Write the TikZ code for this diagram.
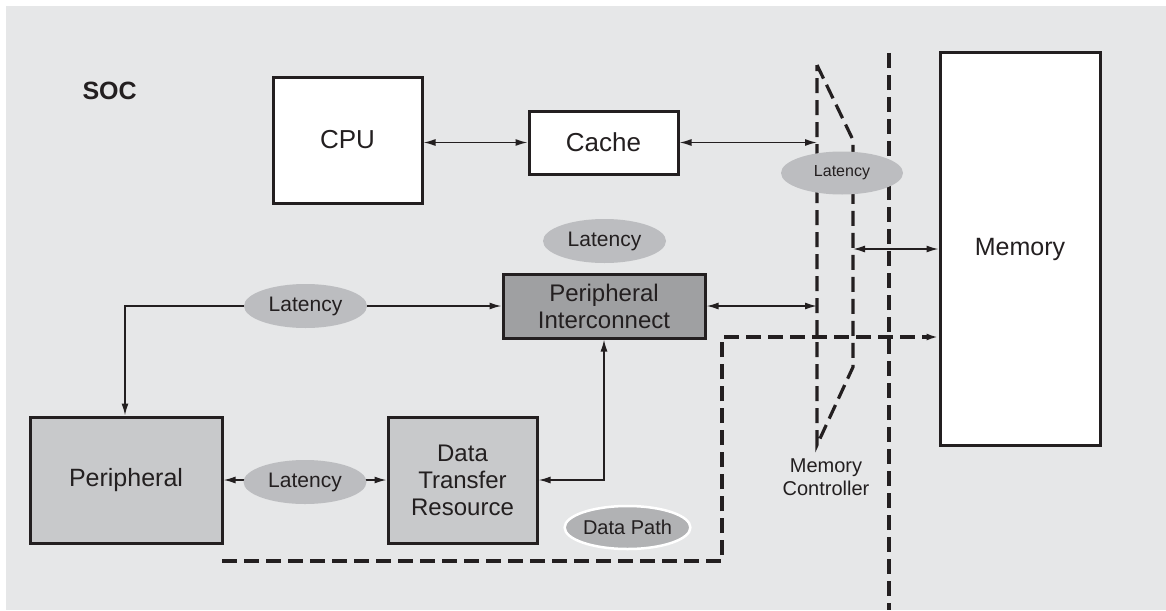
\documentclass[tikz,border=0pt]{standalone}
\usepackage{fontspec}
\setmainfont{Liberation Sans}
\usetikzlibrary{arrows.meta,shapes.geometric}
\definecolor{bg}{HTML}{E6E7E8}
\definecolor{ink}{HTML}{231F20}
\definecolor{boxgray}{HTML}{C8C9CB}
\definecolor{pigray}{HTML}{9FA0A2}
\definecolor{ellgray}{HTML}{BCBDC0}
\definecolor{dpgray}{HTML}{B1B2B4}
\tikzset{
  blk/.style={draw=ink, line width=3pt, rectangle, inner sep=0pt, text=ink, align=center},
  lat/.style={ellipse, fill=ellgray, inner sep=0pt, text=ink, minimum width=123pt, minimum height=44pt, font=\fontsize{21}{24}\selectfont},
  conn/.style={draw=ink, line width=1.5pt, {Latex[length=12pt,width=7pt]}-{Latex[length=12pt,width=7pt]}},
  dsh/.style={draw=ink, line width=3.2pt, dash pattern=on 15pt off 7pt},
}
\begin{document}
\begin{tikzpicture}[x=1pt,y=-1pt]
\useasboundingbox (0,0) rectangle (1166,610);
\fill[bg] (6,6) rectangle (1166,610);

% text label
\node[anchor=west, text=ink, font=\bfseries\fontsize{25}{28}\selectfont] (soc) at (79,91) {SOC};

% boxes
\node[blk, fill=white, minimum width=149pt, minimum height=126pt, font=\fontsize{26}{30}\selectfont] (cpu) at (347.5,140) {CPU};
\node[blk, fill=white, minimum width=149pt, minimum height=63pt, font=\fontsize{26}{30}\selectfont] (cache) at (603.5,142.5) {Cache};
\node[blk, fill=white, minimum width=160pt, minimum height=392pt, font=\fontsize{25}{30}\selectfont] (mem) at (1020,249) {Memory};
\node[blk, fill=pigray, minimum width=202pt, minimum height=64pt, font=\fontsize{24}{27}\selectfont] (pi) at (604,306) {Peripheral\\Interconnect};
\node[blk, fill=boxgray, minimum width=192pt, minimum height=126pt, font=\fontsize{25}{30}\selectfont] (per) at (126,480) {Peripheral};
\node[blk, fill=boxgray, minimum width=149pt, minimum height=126pt, font=\fontsize{24}{27}\selectfont] (dtr) at (462.5,480) {Data\\Transfer\\Resource};

% memory controller
\coordinate (mc1) at (817,65);
\coordinate (mc2) at (853,140);
\coordinate (mc3) at (853,367);
\coordinate (mc4) at (817,445);
\coordinate (mcr) at (853,249);
\draw[dsh] (mc1) -- (mc2) -- (mc3) -- (mc4) -- cycle;
\node[text=ink, align=center, font=\fontsize{20}{23}\selectfont] (mctext) at (826,477) {Memory\\Controller};

% boundary line
\coordinate (vt) at (889,53);
\coordinate (vb) at (889,610);
\draw[dsh] (vt) -- (vb);

% data path
\coordinate (dp1) at (222,561);
\coordinate (dp2) at (722,561);
\coordinate (dp3) at (722,337);
\draw[dsh, -{Latex[length=12pt,width=7pt]}] (dp1) -- (dp2) -- (dp3) -- (dp3 -| mem.west);

% connectors
\draw[conn] (cpu.east |- cache.west) -- (cache.west);
\draw[conn] (cache.east) -- (cache.east -| mc1);
\draw[conn] (mcr) -- (mcr -| mem.west);
\draw[conn] (pi.east) -- (pi.east -| mc1);
\coordinate (perin) at (125,306);
\draw[conn] (per.north -| perin) -- (perin) -- (pi.west);
\draw[conn] (per.east) -- (dtr.west);
\draw[conn] (dtr.east) -| (pi.south);

% latency ellipses
\node[lat] (lat1) at (604.5,241) {Latency};
\node[lat] (lat2) at (305.5,306) {Latency};
\node[lat] (lat3) at (305,482) {Latency};
\node[lat, minimum width=122pt, minimum height=43pt, font=\fontsize{16}{19}\selectfont] (latmc) at (842,173) {Latency};
\node[lat, fill=dpgray, draw=white, line width=2.5pt, minimum width=123pt, minimum height=43pt, font=\fontsize{20}{23}\selectfont] (dpath) at (627.5,527.5) {Data Path};
\end{tikzpicture}
\end{document}
